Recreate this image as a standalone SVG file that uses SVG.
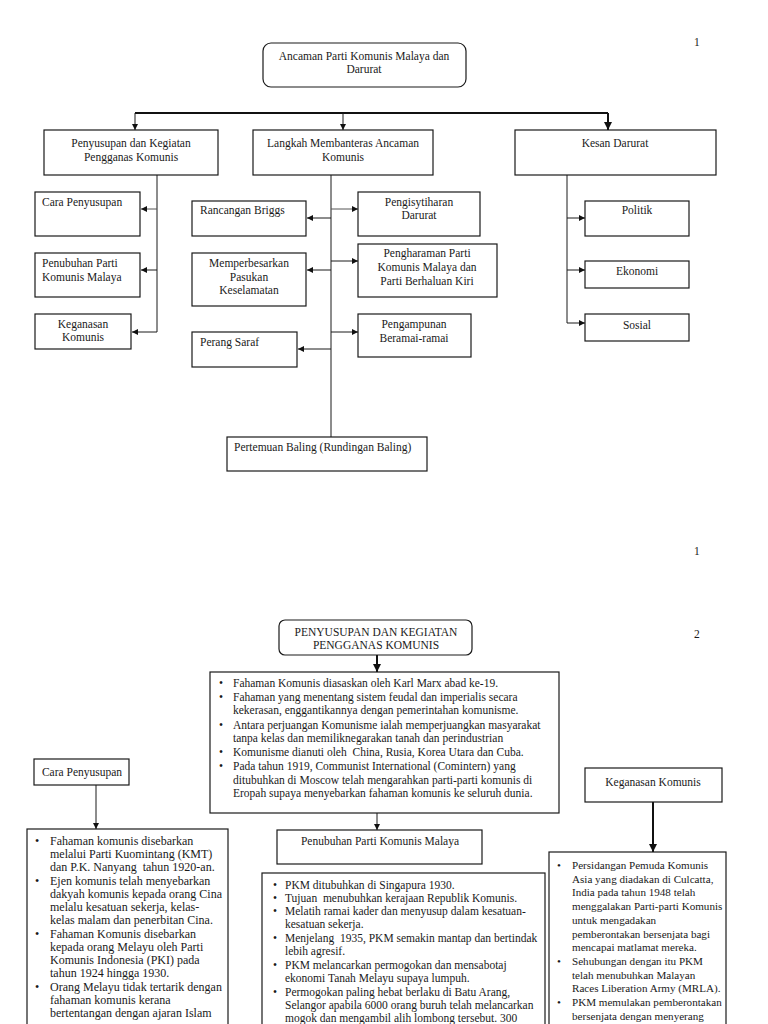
<svg xmlns="http://www.w3.org/2000/svg" width="768" height="1024" viewBox="0 0 768 1024">
<style>
text{font-family:"Liberation Serif","Times New Roman",serif;font-size:11.5px;fill:#1a1a1a}
.c{text-anchor:middle}
.b{fill:#fff;stroke:#1a1a1a;stroke-width:1.2}
.ln{fill:none;stroke:#1a1a1a;stroke-width:1}
.lg{fill:none;stroke:#555;stroke-width:1}
.tk{fill:none;stroke:#111;stroke-width:2}
.s{font-size:12px}
.k{font-size:11.1px}
</style>
<defs>
<marker id="ah" viewBox="0 0 10 10" refX="10" refY="5" markerWidth="6" markerHeight="6" markerUnits="userSpaceOnUse" orient="auto">
<path d="M0,0 L10,5 L0,10 Z" fill="#111"/>
</marker>
<marker id="ah2" viewBox="0 0 10 10" refX="10" refY="5" markerWidth="4" markerHeight="4" orient="auto">
<path d="M0,0 L10,5 L0,10 Z" fill="#111"/>
</marker>
</defs>
<rect width="768" height="1024" fill="#fff"/>

<g id="page-numbers">
<text x="694" y="46">1</text>
<text x="694" y="555">1</text>
<text x="694" y="638">2</text>
</g>

<g id="connectors">
<path class="tk" d="M135,113 H608"/>
<path class="ln" stroke-width="1.5" d="M135,113 V130" marker-end="url(#ah)"/>
<path class="ln" stroke-width="1.5" d="M343,113 V130" marker-end="url(#ah)"/>
<path class="tk" d="M608,113 V130" marker-end="url(#ah2)"/>
<path class="ln" d="M157,175 V332"/>
<path class="lg" d="M157,209 H141" marker-end="url(#ah)"/>
<path class="ln" d="M157,270 H141" marker-end="url(#ah)"/>
<path class="ln" d="M157,332 H132" marker-end="url(#ah)"/>
<path class="ln" d="M331,175 V437"/>
<path class="ln" d="M331,218 H307" marker-end="url(#ah)"/>
<path class="ln" d="M331,270 H307" marker-end="url(#ah)"/>
<path class="ln" d="M331,349 H298" marker-end="url(#ah)"/>
<path class="lg" d="M331,209 H358" marker-end="url(#ah)"/>
<path class="ln" d="M331,261 H358" marker-end="url(#ah)"/>
<path class="ln" d="M331,332 H358" marker-end="url(#ah)"/>
<path class="ln" d="M567,175 V323"/>
<path class="ln" d="M567,218 H585" marker-end="url(#ah)"/>
<path class="ln" d="M567,270 H585" marker-end="url(#ah)"/>
<path class="ln" d="M567,323 H585" marker-end="url(#ah)"/>
<path class="tk" d="M377,655 V672" marker-end="url(#ah2)"/>
<path class="ln" d="M377,813 V830" marker-end="url(#ah)"/>
<path class="ln" d="M96,785 V829" marker-end="url(#ah)"/>
<path class="tk" d="M653,802 V852" marker-end="url(#ah2)"/>
</g>

<g id="n-ancaman">
<rect class="b" x="263" y="43" width="203" height="44" rx="8"/>
<text class="c" x="364" y="60">Ancaman Parti Komunis Malaya dan</text>
<text class="c" x="364" y="73">Darurat</text>
</g>
<g id="n-penyusupan">
<rect class="b" x="44" y="130" width="174" height="45"/>
<text class="c" x="131" y="147">Penyusupan dan Kegiatan</text>
<text class="c" x="131" y="161">Pengganas Komunis</text>
</g>
<g id="n-langkah">
<rect class="b" x="253" y="130" width="180" height="45"/>
<text class="c" x="343" y="147">Langkah Membanteras Ancaman</text>
<text class="c" x="343" y="161">Komunis</text>
</g>
<g id="n-kesan">
<rect class="b" x="515" y="130" width="201" height="45"/>
<text class="c" x="615" y="147">Kesan Darurat</text>
</g>
<g id="n-cara">
<rect class="b" x="35" y="192" width="105" height="44"/>
<text x="42" y="206">Cara Penyusupan</text>
</g>
<g id="n-penubuhan">
<rect class="b" x="35" y="253" width="105" height="44"/>
<text x="42" y="267">Penubuhan Parti</text>
<text x="42" y="281">Komunis Malaya</text>
</g>
<g id="n-keganasan">
<rect class="b" x="35" y="314" width="96" height="35"/>
<text class="c" x="83" y="328">Keganasan</text>
<text class="c" x="83" y="341">Komunis</text>
</g>
<g id="n-briggs">
<rect class="b" x="192" y="201" width="114" height="35"/>
<text x="200" y="214">Rancangan Briggs</text>
</g>
<g id="n-memperbesar">
<rect class="b" x="192" y="253" width="114" height="53"/>
<text class="c" x="249" y="267">Memperbesarkan</text>
<text class="c" x="249" y="281">Pasukan</text>
<text class="c" x="249" y="294">Keselamatan</text>
</g>
<g id="n-perang">
<rect class="b" x="192" y="332" width="105" height="35"/>
<text x="200" y="346">Perang Saraf</text>
</g>
<g id="n-pengisytiharan">
<rect class="b" x="358" y="192" width="122" height="44"/>
<text class="c" x="419" y="206">Pengisytiharan</text>
<text class="c" x="419" y="219">Darurat</text>
</g>
<g id="n-pengharaman">
<rect class="b" x="358" y="244" width="139" height="53"/>
<text class="c" x="427" y="257">Pengharaman Parti</text>
<text class="c" x="427" y="271">Komunis Malaya dan</text>
<text class="c" x="427" y="285">Parti Berhaluan Kiri</text>
</g>
<g id="n-pengampunan">
<rect class="b" x="358" y="314" width="113" height="43"/>
<text class="c" x="414" y="328">Pengampunan</text>
<text class="c" x="414" y="342">Beramai-ramai</text>
</g>
<g id="n-politik">
<rect class="b" x="585" y="201" width="104" height="35"/>
<text class="c" x="637" y="214">Politik</text>
</g>
<g id="n-ekonomi">
<rect class="b" x="585" y="261" width="104" height="27"/>
<text class="c" x="637" y="275">Ekonomi</text>
</g>
<g id="n-sosial">
<rect class="b" x="585" y="314" width="104" height="27"/>
<text class="c" x="637" y="329">Sosial</text>
</g>
<g id="n-baling">
<rect class="b" x="227" y="437" width="200" height="34"/>
<text x="234" y="451">Pertemuan Baling (Rundingan Baling)</text>
</g>

<g id="n-title2">
<rect class="b" x="279" y="620" width="193" height="35" rx="6"/>
<text class="c" x="376" y="636">PENYUSUPAN DAN KEGIATAN</text>
<text class="c" x="376" y="649">PENGGANAS KOMUNIS</text>
</g>
<g id="n-fahaman">
<rect class="b" x="210" y="672" width="349" height="141"/>
<text x="219" y="687">•</text><text x="233" y="687">Fahaman Komunis diasaskan oleh Karl Marx abad ke-19.</text>
<text x="219" y="701">•</text><text x="233" y="701">Fahaman yang menentang sistem feudal dan imperialis secara</text>
<text x="233" y="714">kekerasan, enggantikannya dengan pemerintahan komunisme.</text>
<text x="219" y="729">•</text><text x="233" y="729">Antara perjuangan Komunisme ialah memperjuangkan masyarakat</text>
<text x="233" y="742">tanpa kelas dan memiliknegarakan tanah dan perindustrian</text>
<text x="219" y="756">•</text><text x="233" y="756">Komunisme dianuti oleh &#160;China, Rusia, Korea Utara dan Cuba.</text>
<text x="219" y="770">•</text><text x="233" y="770">Pada tahun 1919, Communist International (Comintern) yang</text>
<text x="233" y="784">ditubuhkan di Moscow telah mengarahkan parti-parti komunis di</text>
<text x="233" y="797">Eropah supaya menyebarkan fahaman komunis ke seluruh dunia.</text>
</g>
<g id="n-cara2">
<rect class="b" x="34" y="759" width="95" height="26"/>
<text class="c" x="82" y="776">Cara Penyusupan</text>
</g>
<g id="n-cara-list">
<rect class="b" x="27" y="829" width="201" height="210"/>
<text class="s" x="35" y="845">•</text><text class="s" x="50" y="845">Fahaman komunis disebarkan</text>
<text class="s" x="50" y="858">melalui Parti Kuomintang (KMT)</text>
<text class="s" x="50" y="871">dan P.K. Nanyang &#160;tahun 1920-an.</text>
<text class="s" x="35" y="885">•</text><text class="s" x="50" y="885">Ejen komunis telah menyebarkan</text>
<text class="s" x="50" y="898">dakyah komunis kepada orang Cina</text>
<text class="s" x="50" y="911">melalu kesatuan sekerja, kelas-</text>
<text class="s" x="50" y="924">kelas malam dan penerbitan Cina.</text>
<text class="s" x="35" y="938">•</text><text class="s" x="50" y="938">Fahaman Komunis disebarkan</text>
<text class="s" x="50" y="951">kepada orang Melayu oleh Parti</text>
<text class="s" x="50" y="964">Komunis Indonesia (PKI) pada</text>
<text class="s" x="50" y="977">tahun 1924 hingga 1930.</text>
<text class="s" x="35" y="991">•</text><text class="s" x="50" y="991">Orang Melayu tidak tertarik dengan</text>
<text class="s" x="50" y="1004">fahaman komunis kerana</text>
<text class="s" x="50" y="1017">bertentangan dengan ajaran Islam</text>
</g>
<g id="n-penubuhan2">
<rect class="b" x="277" y="830" width="205" height="34"/>
<text class="c" x="380" y="845">Penubuhan Parti Komunis Malaya</text>
</g>
<g id="n-pkm-list">
<rect class="b" x="262" y="873" width="283" height="170"/>
<text x="273" y="889">•</text><text x="285" y="889">PKM ditubuhkan di Singapura 1930.</text>
<text x="273" y="902">•</text><text x="285" y="902">Tujuan &#160;menubuhkan kerajaan Republik Komunis.</text>
<text x="273" y="915">•</text><text x="285" y="915">Melatih ramai kader dan menyusup dalam kesatuan-</text>
<text x="285" y="928">kesatuan sekerja.</text>
<text x="273" y="942">•</text><text x="285" y="942">Menjelang &#160;1935, PKM semakin mantap dan bertindak</text>
<text x="285" y="955">lebih agresif.</text>
<text x="273" y="969">•</text><text x="285" y="969">PKM melancarkan permogokan dan mensabotaj</text>
<text x="285" y="982">ekonomi Tanah Melayu supaya lumpuh.</text>
<text x="273" y="996">•</text><text x="285" y="996">Permogokan paling hebat berlaku di Batu Arang,</text>
<text x="285" y="1009">Selangor apabila 6000 orang buruh telah melancarkan</text>
<text x="285" y="1022">mogok dan mengambil alih lombong tersebut. 300</text>
</g>
<g id="n-keganasan2">
<rect class="b" x="585" y="768" width="137" height="34"/>
<text class="c" x="653" y="786">Keganasan Komunis</text>
</g>
<g id="n-keganasan-list">
<rect class="b" x="549" y="852" width="177" height="190"/>
<text class="k" x="557" y="869">•</text><text class="k" x="572" y="869">Persidangan Pemuda Komunis</text>
<text class="k" x="572" y="883">Asia yang diadakan di Culcatta,</text>
<text class="k" x="572" y="896">India pada tahun 1948 telah</text>
<text class="k" x="572" y="910">menggalakan Parti-parti Komunis</text>
<text class="k" x="572" y="924">untuk mengadakan</text>
<text class="k" x="572" y="938">pemberontakan bersenjata bagi</text>
<text class="k" x="572" y="951">mencapai matlamat mereka.</text>
<text class="k" x="557" y="965">•</text><text class="k" x="572" y="965">Sehubungan dengan itu PKM</text>
<text class="k" x="572" y="979">telah menubuhkan Malayan</text>
<text class="k" x="572" y="992">Races Liberation Army (MRLA).</text>
<text class="k" x="557" y="1006">•</text><text class="k" x="572" y="1006">PKM memulakan pemberontakan</text>
<text class="k" x="572" y="1020">bersenjata dengan menyerang</text>
</g>
</svg>
